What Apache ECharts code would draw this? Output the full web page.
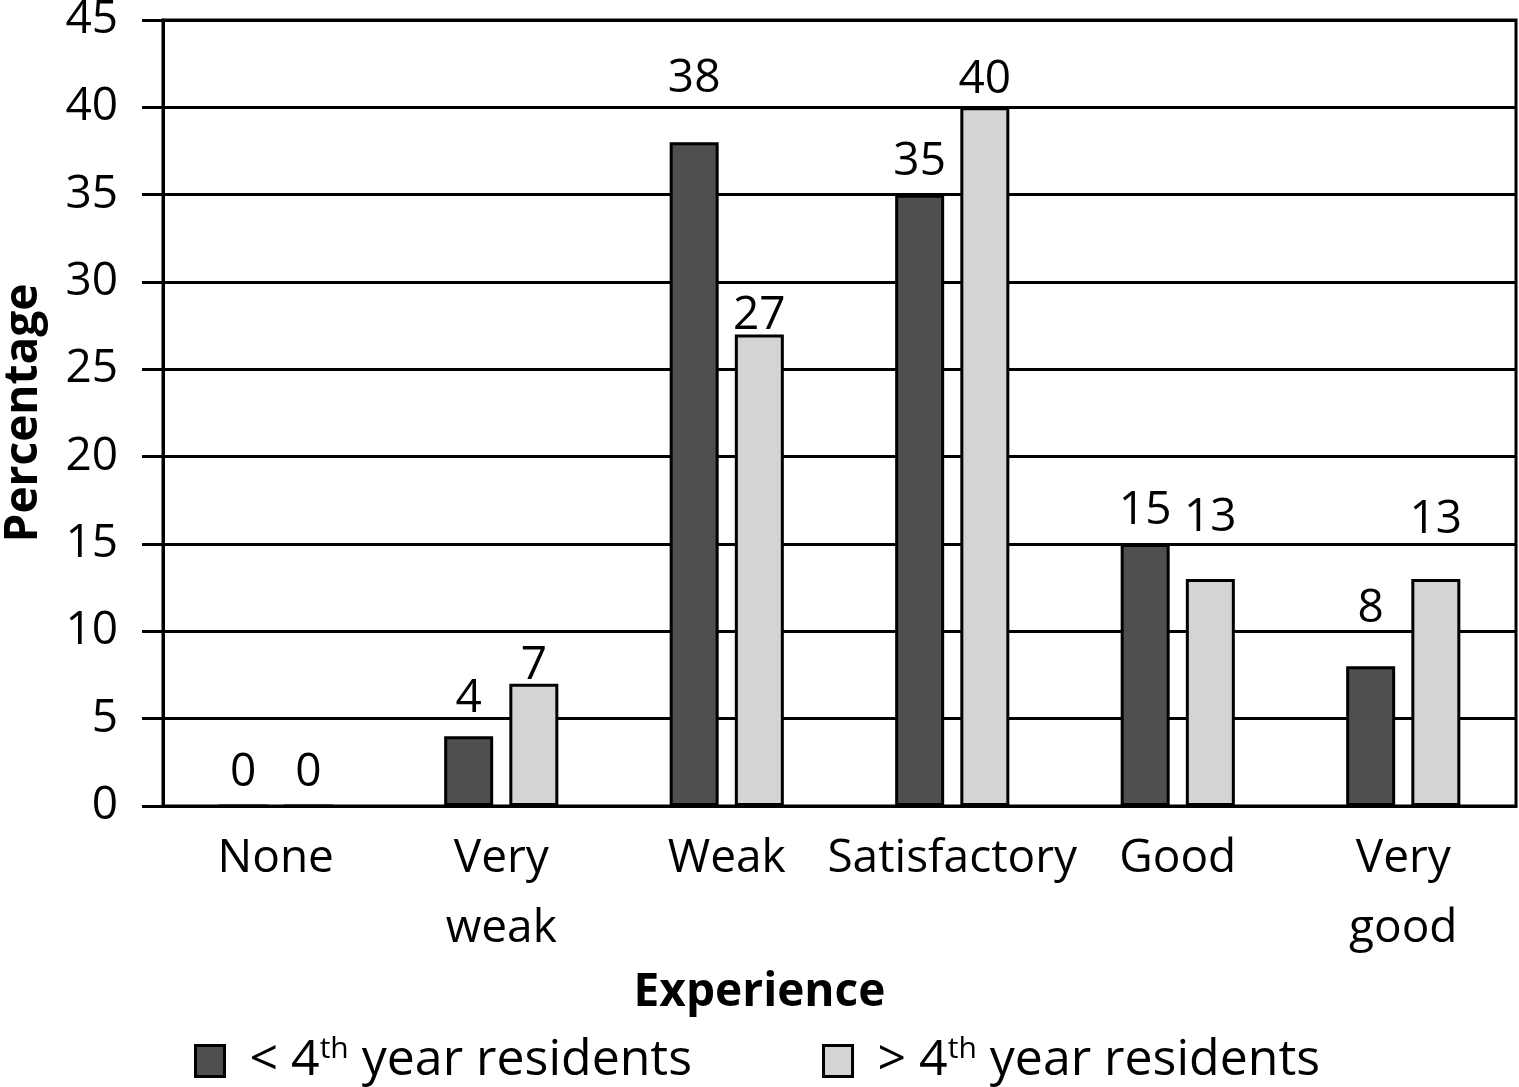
<!DOCTYPE html>
<html>
<head>
<meta charset="utf-8">
<script src="https://cdn.jsdelivr.net/npm/echarts@6/dist/echarts.min.js"></script>
<style>
html,body{margin:0;padding:0;background:#fff;}
#chart{width:1519px;height:1087px;}
</style>
</head>
<body>
<div id="chart"></div>
<script>
// ---- data ----
var categories = ['None', 'Very\nweak', 'Weak', 'Satisfactory', 'Good', 'Very\ngood'];
var seriesNames = ['< 4th year residents', '> 4th year residents'];
var lessThan4th = [0, 4, 38, 35, 15, 8];
var moreThan4th = [0, 7, 27, 40, 13, 13];
var yTicks = [0, 5, 10, 15, 20, 25, 30, 35, 40, 45];

// ---- label offsets (style only) ----
var labelDistDark = [9, 14, 40, 10, 10, 34];
var labelDistLight = [9, -5, -4, 4, 38, 36];

var FONT = 'Open Sans';
var chart = echarts.init(document.getElementById('chart'));

function withLabels(values, dists) {
  return values.map(function (v, i) {
    return { value: v, label: { distance: dists[i] } };
  });
}

var labelStyle = {
  show: true, position: 'top', color: '#000', fontSize: 46, fontFamily: FONT
};

chart.setOption({
  backgroundColor: '#fff',
  animation: false,
  textStyle: { fontFamily: FONT },
  title: {
    text: 'Experience', left: 'center', top: 970, padding: 0,
    textStyle: { fontSize: 46, fontWeight: 'bold', color: '#000', fontFamily: FONT }
  },
  grid: {
    left: 163, right: 3, top: 20, bottom: 281,
    show: true, borderColor: '#000', borderWidth: 3,
    containLabel: false, outerBoundsMode: 'none'
  },
  legend: {
    left: 189, top: 1029,
    itemWidth: 29, itemHeight: 31, itemGap: 130, itemTextGap: 20,
    icon: 'rect',
    data: seriesNames,
    itemStyle: { borderColor: '#000', borderWidth: 3 },
    formatter: function (name) {
      var sym = name.charAt(0);
      return '{p|' + sym + ' 4}{s|th}{a| year residents}';
    },
    textStyle: {
      color: '#000', fontFamily: FONT,
      rich: {
        p: { fontSize: 50, color: '#000', fontFamily: FONT, padding: [0, 0, 0, 20] },
        a: { fontSize: 50, color: '#000', fontFamily: FONT },
        s: { fontSize: 30, color: '#000', fontFamily: FONT, padding: [0, 0, 24, 0] }
      }
    }
  },
  xAxis: {
    type: 'category',
    data: categories,
    axisLine: { show: true, lineStyle: { color: '#000', width: 3 } },
    axisTick: { show: false },
    axisLabel: { color: '#000', fontSize: 46, lineHeight: 70, margin: 18, fontFamily: FONT, interval: 0 }
  },
  yAxis: {
    type: 'value',
    min: yTicks[0], max: yTicks[yTicks.length - 1], interval: 5,
    name: 'Percentage',
    nameLocation: 'middle',
    nameGap: 116,
    nameTextStyle: { fontSize: 46, fontWeight: 'bold', color: '#000', fontFamily: FONT },
    axisLine: { show: true, lineStyle: { color: '#000', width: 3 } },
    axisTick: { show: true, length: 21, lineStyle: { color: '#000', width: 3 } },
    splitLine: { show: true, lineStyle: { color: '#000', width: 3 } },
    axisLabel: { color: '#000', fontSize: 46, margin: 45, fontFamily: FONT }
  },
  series: [
    {
      name: seriesNames[0], type: 'bar',
      data: withLabels(lessThan4th, labelDistDark),
      barWidth: 49, barGap: '33%',
      itemStyle: { color: '#4f4f4f', borderColor: '#000', borderWidth: 3 },
      label: labelStyle
    },
    {
      name: seriesNames[1], type: 'bar',
      data: withLabels(moreThan4th, labelDistLight),
      barWidth: 49,
      itemStyle: { color: '#d4d4d4', borderColor: '#000', borderWidth: 3 },
      label: labelStyle
    }
  ]
});
</script>
</body>
</html>
